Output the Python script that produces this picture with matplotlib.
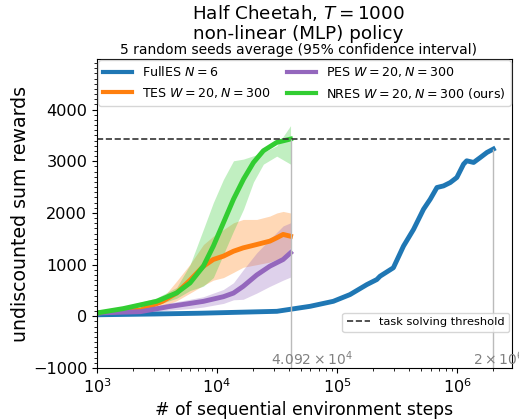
import numpy as np
import matplotlib.pyplot as plt
from matplotlib.lines import Line2D
import matplotlib.ticker as ticker
import matplotlib.transforms as mtransforms

# values (x = sequential env steps, y = rewards)
threshold = 3431

fulles_x = [1e3, 3.0e3, 7.2e3, 3.15e4, 5.96e4, 9.3e4, 1.28e5, 1.77e5, 2.14e5,
            2.28e5, 2.94e5, 3.57e5, 4.33e5, 5.24e5, 5.96e5, 6.78e5, 7.69e5,
            8.75e5, 9.93e5, 1.13e6, 1.20e6, 1.37e6, 1.56e6, 1.77e6, 2.0e6]
fulles_y = [30, 45, 60, 97, 194, 291, 421, 615, 712, 777, 940, 1359, 1683,
            2072, 2266, 2493, 2524, 2589, 2687, 2946, 3010, 2978, 3075, 3172, 3237]

tes_x = [1e3, 2.3e3, 3.5e3, 4.6e3, 5.96e3, 7.7e3, 9.3e3, 1.13e4, 1.37e4,
         1.65e4, 2.14e4, 2.75e4, 3.14e4, 3.55e4, 4.092e4]
tes_y = [66, 120, 290, 450, 700, 970, 1100, 1165, 1260, 1325, 1390, 1455, 1520, 1585, 1550]
tes_lo = [40, 80, 200, 300, 450, 600, 700, 750, 850, 950, 1000, 1050, 1100, 1150, 1330]
tes_hi = [90, 170, 350, 680, 1010, 1390, 1550, 1680, 1810, 1875, 1875, 1940, 2000, 2030, 2000]

pes_x = [1e3, 2.3e3, 4.0e3, 5.96e3, 7.7e3, 1.13e4, 1.37e4, 1.65e4, 2.14e4,
         2.75e4, 3.55e4, 4.092e4]
pes_y = [66, 90, 190, 250, 290, 380, 450, 580, 800, 970, 1100, 1230]
pes_lo = [40, 60, 120, 150, 180, 250, 320, 330, 450, 580, 700, 760]
pes_hi = [90, 130, 260, 330, 380, 520, 650, 900, 1230, 1490, 1750, 1810]

nres_x = [1e3, 1.66e3, 3.14e3, 4.61e3, 5.96e3, 7.69e3, 9.31e3, 1.13e4, 1.37e4,
          1.66e4, 2.01e4, 2.43e4, 3.14e4, 4.092e4]
nres_y = [66, 150, 291, 453, 647, 971, 1359, 1812, 2266, 2654, 2977, 3204, 3366, 3431]
nres_lo = [40, 110, 220, 350, 500, 583, 750, 1200, 1650, 2072, 2600, 2945, 3100, 2945]
nres_hi = [90, 190, 356, 560, 1000, 1683, 2201, 2650, 3010, 3043, 3107, 3172, 3300, 3690]

fig = plt.figure(figsize=(5.19, 4.20), dpi=100)
ax = fig.add_axes([97 / 519, 52 / 420, 415 / 519, 309 / 420])

ax.fill_between(tes_x, tes_lo, tes_hi, color='tab:orange', alpha=0.3, lw=0)
ax.fill_between(pes_x, pes_lo, pes_hi, color='tab:purple', alpha=0.3, lw=0)
ax.fill_between(nres_x, nres_lo, nres_hi, color='limegreen', alpha=0.3, lw=0)

ax.plot(fulles_x, fulles_y, color='tab:blue', lw=3.5, label='FullES $N=6$')
ax.plot(tes_x, tes_y, color='tab:orange', lw=3.5, label='TES $W=20, N=300$')
ax.plot(pes_x, pes_y, color='tab:purple', lw=3.5, label='PES $W=20, N=300$')
ax.plot(nres_x, nres_y, color='limegreen', lw=3.5, label='NRES $W=20, N=300$ (ours)')

ax.axhline(threshold, color='#333333', ls='--', lw=1.2)

ax.set_xscale('log')
ax.set_xlim(1e3, 2.86e6)
ax.set_ylim(-1000, 4980)
ax.yaxis.set_major_locator(ticker.MultipleLocator(1000))
ax.yaxis.set_minor_locator(ticker.MultipleLocator(100))
ax.tick_params(labelsize=11.6)

# end-of-run markers
for xe, ye, lab in [(4.092e4, nres_y[-1], r'$4.092\times10^4$'),
                    (2e6, fulles_y[-1], r'$2\times10^6$')]:
    ax.vlines(xe, -1000, ye, color='#bbbbbb', lw=1)
    off = mtransforms.offset_copy(ax.transData, fig=fig, x=-20, y=0, units='dots')
    ax.text(xe, -1000, lab, transform=off, ha='left', va='bottom',
            color='gray', fontsize=10, clip_on=False)

ax.set_xlabel('# of sequential environment steps', fontsize=12.3, labelpad=3)
ax.set_ylabel('undiscounted sum rewards', fontsize=13.6, labelpad=2)

leg1 = ax.legend(loc='upper left', bbox_to_anchor=(0, 1, 1, 0), mode='expand',
                 ncol=2, fontsize=9.1, borderaxespad=0.1, handlelength=2.3)
for h in leg1.get_lines():
    h.set_linewidth(3)
ax.add_artist(leg1)
ax.legend(handles=[Line2D([0], [0], color='#333333', ls='--', lw=1.2)],
          labels=['task solving threshold'], loc='lower right',
          bbox_to_anchor=(0.993, 0.117), borderaxespad=0, fontsize=8.2)

xc = 298 / 519
fig.text(xc, 0.970, 'Half Cheetah, $T=1000$', ha='center', va='center', fontsize=13.2)
fig.text(xc, 0.920, 'non-linear (MLP) policy', ha='center', va='center', fontsize=13.2)
fig.text(xc, 0.880, '5 random seeds average (95% confidence interval)',
         ha='center', va='center', fontsize=10)

fig.savefig('out.png', dpi=100)
